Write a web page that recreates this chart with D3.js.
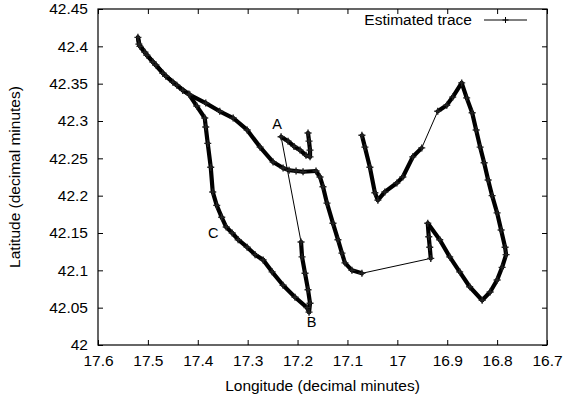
<!DOCTYPE html>
<html>
<head>
<meta charset="utf-8">
<script src="https://cdn.jsdelivr.net/npm/d3@7"></script>
<style>
  html, body { margin: 0; padding: 0; background: #fff; }
  text { font-family: "Liberation Sans", Arial, sans-serif; }
</style>
</head>
<body>
<svg id="chart" width="564" height="398"></svg>
<script>
// Trace data (decimal minutes), in travel order
const lon = [
  17.179, 17.177, 17.175, 17.175, 17.183, 17.195, 17.207, 17.219, 17.233,
  17.193, 17.191, 17.185, 17.179, 17.175, 17.177,
  17.181, 17.205, 17.229, 17.251, 17.269, 17.285, 17.301, 17.319, 17.331, 17.343,
  17.352, 17.362, 17.370, 17.374, 17.380, 17.384, 17.386, 17.402, 17.418,
  17.430, 17.450, 17.470, 17.490, 17.506, 17.518, 17.520,
  17.516, 17.502, 17.484, 17.464, 17.442, 17.416, 17.384, 17.356, 17.329, 17.301,
  17.275, 17.249, 17.229, 17.217, 17.203, 17.189, 17.163, 17.155, 17.149, 17.141,
  17.129, 17.119, 17.111, 17.105, 17.091, 17.071,
  16.933, 16.935, 16.937, 16.939, 16.915, 16.895, 16.875, 16.855, 16.830,
  16.814, 16.800, 16.790, 16.782, 16.784, 16.792, 16.800, 16.810, 16.818,
  16.826, 16.834, 16.842, 16.850, 16.861, 16.871, 16.889, 16.901, 16.919,
  16.951, 16.969, 16.989, 17.001, 17.025, 17.039, 17.045, 17.055, 17.065, 17.071
];
const lat = [
  42.284, 42.273, 42.261, 42.252, 42.254, 42.261, 42.266, 42.273, 42.279,
  42.138, 42.118, 42.096, 42.074, 42.056, 42.044,
  42.050, 42.064, 42.080, 42.098, 42.114, 42.121, 42.131, 42.141, 42.150, 42.158,
  42.171, 42.187, 42.205, 42.238, 42.270, 42.292, 42.304, 42.320, 42.336,
  42.341, 42.352, 42.364, 42.379, 42.392, 42.403, 42.412,
  42.400, 42.388, 42.375, 42.360, 42.348, 42.335, 42.324, 42.313, 42.304, 42.288,
  42.265, 42.245, 42.237, 42.234, 42.233, 42.232, 42.233, 42.225, 42.212, 42.190,
  42.163, 42.141, 42.123, 42.110, 42.100, 42.096,
  42.116, 42.131, 42.145, 42.163, 42.141, 42.118, 42.098, 42.078, 42.060,
  42.071, 42.087, 42.104, 42.121, 42.131, 42.154, 42.177, 42.200, 42.221,
  42.244, 42.265, 42.288, 42.311, 42.331, 42.351, 42.332, 42.321, 42.313,
  42.264, 42.252, 42.225, 42.217, 42.205, 42.194, 42.204, 42.238, 42.265, 42.281
];

const xTicks = [17.6, 17.5, 17.4, 17.3, 17.2, 17.1, 17.0, 16.9, 16.8, 16.7];
const yTicks = [42, 42.05, 42.1, 42.15, 42.2, 42.25, 42.3, 42.35, 42.4, 42.45];

const markLabels = ["A", "B", "C"];
const markLon = [17.241, 17.172, 17.369];
const markLat = [42.289, 42.024, 42.143];

const seriesName = "Estimated trace";
const xTitle = "Longitude (decimal minutes)";
const yTitle = "Latitude (decimal minutes)";

const FS = 15.5;
const svg = d3.select("#chart");
const m = { left: 98, right: 17, top: 9, bottom: 53 };
const W = 564, H = 398;
const x = d3.scaleLinear().domain([17.6, 16.7]).range([m.left, W - m.right]);
const y = d3.scaleLinear().domain([42, 42.45]).range([H - m.bottom, m.top]);

const fmt = d => String(+d.toFixed(2));
const tickLen = 5;

// axes (ticks inward, mirrored)
const axB = svg.append("g").attr("transform", `translate(0,${y(42)})`)
  .call(d3.axisBottom(x).tickValues(xTicks).tickFormat(fmt).tickSizeInner(-tickLen).tickSizeOuter(0).tickPadding(10));
const axT = svg.append("g").attr("transform", `translate(0,${y(42.45)})`)
  .call(d3.axisTop(x).tickValues(xTicks).tickFormat("").tickSizeInner(-tickLen).tickSizeOuter(0));
const axL = svg.append("g").attr("transform", `translate(${x(17.6)},0)`)
  .call(d3.axisLeft(y).tickValues(yTicks).tickFormat(fmt).tickSizeInner(-tickLen).tickSizeOuter(0).tickPadding(10));
const axR = svg.append("g").attr("transform", `translate(${x(16.7)},0)`)
  .call(d3.axisRight(y).tickValues(yTicks).tickFormat("").tickSizeInner(-tickLen).tickSizeOuter(0));
[axB, axT, axL, axR].forEach(a => {
  a.select(".domain").remove();
  a.selectAll("line").attr("stroke", "#000");
  a.selectAll("text").attr("font-size", FS).attr("fill", "#000")
    .style("font-family", '"Liberation Sans", Arial, sans-serif');
});

// border
svg.append("rect")
  .attr("x", x(17.6)).attr("y", y(42.45))
  .attr("width", x(16.7) - x(17.6)).attr("height", y(42) - y(42.45))
  .attr("fill", "none").attr("stroke", "#000").attr("stroke-width", 1.2);

// trace
const pts = lon.map((d, i) => [x(d), y(lat[i])]);
const g = svg.append("g");
for (let i = 1; i < pts.length; i++) {
  const a = pts[i - 1], b = pts[i];
  const dist = Math.hypot(b[0] - a[0], b[1] - a[1]);
  g.append("path")
    .attr("d", d3.line()([a, b]))
    .attr("stroke", "#000")
    .attr("stroke-width", dist > 30 ? 1 : 4.2)
    .attr("stroke-linecap", "round")
    .attr("fill", "none");
}
g.selectAll("path.pt").data(pts).join("path")
  .attr("class", "pt")
  .attr("transform", d => `translate(${d[0]},${d[1]})`)
  .attr("d", "M-3.5,0H3.5M0,-3.5V3.5")
  .attr("stroke", "#222").attr("stroke-width", 1.4);

// point labels
svg.selectAll("text.mk").data(markLabels).join("text")
  .attr("class", "mk")
  .attr("x", (d, i) => x(markLon[i]))
  .attr("y", (d, i) => y(markLat[i]))
  .attr("text-anchor", "middle")
  .attr("font-size", 14.5)
  .text(d => d);

// legend
svg.append("text").attr("x", 472).attr("y", 25).attr("text-anchor", "end")
  .attr("font-size", FS).text(seriesName);
svg.append("line").attr("x1", 484).attr("x2", 527).attr("y1", 20).attr("y2", 20)
  .attr("stroke", "#000").attr("stroke-width", 1);
svg.append("path").attr("transform", "translate(505.5,20)").attr("d", "M-3,0H3M0,-3V3")
  .attr("stroke", "#000").attr("stroke-width", 1);

// titles
svg.append("text").attr("x", (x(17.6) + x(16.7)) / 2).attr("y", 391)
  .attr("text-anchor", "middle").attr("font-size", FS).text(xTitle);
svg.append("text").attr("transform", `translate(20,${(y(42) + y(42.45)) / 2}) rotate(-90)`)
  .attr("text-anchor", "middle").attr("font-size", FS).text(yTitle);
</script>
</body>
</html>
